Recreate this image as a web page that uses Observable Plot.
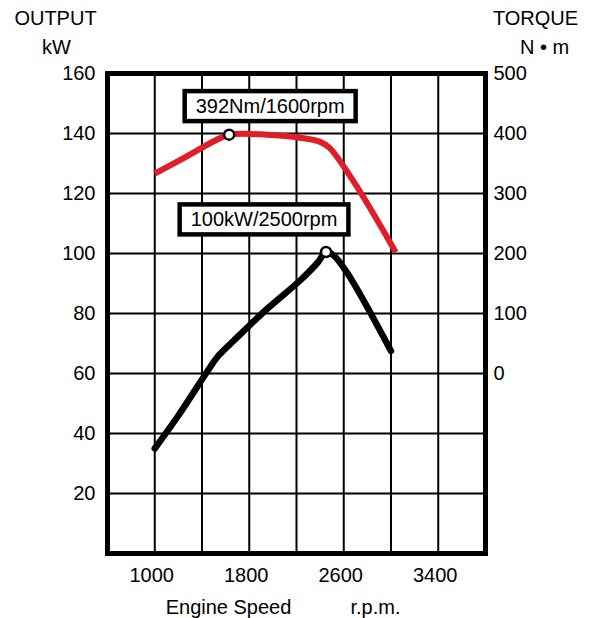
<!DOCTYPE html>
<html><head><meta charset="utf-8">
<script src="https://cdn.jsdelivr.net/npm/d3@7"></script>
<script src="https://cdn.jsdelivr.net/npm/@observablehq/plot@0.6"></script>
<style>body{margin:0;background:#fff} svg{display:block}</style>
</head><body><div id="chart"></div>
<script>
// ---- data ----
const rpmGrid = [1000, 1400, 1800, 2200, 2600, 3000, 3400];
const rpmTicks = [1000, 1800, 2600, 3400];
const kwGrid = [20, 40, 60, 80, 100, 120, 140];
const kwTicks = [20, 40, 60, 80, 100, 120, 140, 160];
const nmTicks = [0, 100, 200, 300, 400, 500];

const powerRpm = [1000, 1200, 1450, 1530, 1670, 1950, 2230, 2380, 2450, 2510, 2630, 3000];
const powerKw  = [35, 46, 61, 65.5, 71, 81.5, 91, 97, 100.5, 99.5, 93.5, 67.5];

const torqueRpm = [1000, 1300, 1500, 1630, 1950, 2230, 2400, 2480, 2690, 3040];
const torqueNm  = [333, 365, 387, 398, 398, 393, 386, 376, 318, 202];

const labelText   = ["392Nm/1600rpm", "100kW/2500rpm"];
const labelRpm    = [1630, 2450];
const labelSeries = ["torque", "power"];
const labelValue  = [398, 100.5];

// torque axis mapped onto the output scale: 0 N·m ↔ 60 kW, 100 N·m ↔ 20 kW
const nmToKw = t => 60 + t / 5;
const kwToNm = k => (k - 60) * 5;

const power = powerRpm.map((r, i) => ({rpm: r, v: powerKw[i]}));
const torque = torqueRpm.map((r, i) => ({rpm: r, v: nmToKw(torqueNm[i])}));
const labels = labelText.map((t, i) => ({
  text: t, rpm: labelRpm[i],
  v: labelSeries[i] === "torque" ? nmToKw(labelValue[i]) : labelValue[i]
}));

const font = "Liberation Sans, Arial, Helvetica, sans-serif";

const plot = Plot.plot({
  width: 595,
  height: 618,
  marginLeft: 107,
  marginRight: 110,
  marginTop: 73,
  marginBottom: 65,
  style: {fontFamily: font, fontSize: "20px", color: "black", background: "white"},
  x: {domain: [600, 3800], label: null},
  y: {domain: [0, 160], label: null},
  marks: [
    Plot.ruleX(rpmGrid, {stroke: "black", strokeWidth: 2}),
    Plot.ruleY(kwGrid, {stroke: "black", strokeWidth: 2}),
    Plot.frame({stroke: "black", strokeWidth: 5}),
    Plot.axisX(rpmTicks, {anchor: "bottom", tickSize: 0, tickPadding: 14, dx: -3, tickFormat: d => String(d), fontSize: 20}),
    Plot.axisY(kwTicks, {anchor: "left", tickSize: 0, tickPadding: 12, tickFormat: d => String(d), fontSize: 20}),
    Plot.axisY(nmTicks.map(nmToKw), {anchor: "right", tickSize: 0, tickPadding: 8,
      tickFormat: d => String(Math.round(kwToNm(d))), fontSize: 20}),
    Plot.line(torque, {x: "rpm", y: "v", stroke: "#e01e2a", strokeWidth: 6, curve: "catmull-rom", strokeLinecap: "butt"}),
    Plot.line(power, {x: "rpm", y: "v", stroke: "black", strokeWidth: 6.5, curve: "catmull-rom", strokeLinejoin: "round"}),
    Plot.dot(labels, {x: "rpm", y: "v", r: 5, fill: "white", stroke: "black", strokeWidth: 2.5}),
    Plot.text([labels[0]], {x: "rpm", y: "v", text: "text", dx: 41, dy: -28, fontSize: 20, fill: "black"}),
    Plot.text([labels[1]], {x: "rpm", y: "v", text: "text", dx: -62, dy: -32, fontSize: 20, fill: "black"}),
    Plot.text(["OUTPUT"], {frameAnchor: "top-left", dx: -52, dy: -55, fontSize: 20, textAnchor: "middle", lineAnchor: "middle"}),
    Plot.text(["kW"], {frameAnchor: "top-left", dx: -51, dy: -26, fontSize: 20, textAnchor: "middle", lineAnchor: "middle"}),
    Plot.text(["TORQUE"], {frameAnchor: "top-right", dx: 50, dy: -55, fontSize: 20, textAnchor: "middle", lineAnchor: "middle"}),
    Plot.text(["N • m"], {frameAnchor: "top-right", dx: 59, dy: -26, fontSize: 20, textAnchor: "middle", lineAnchor: "middle"}),
    Plot.text(["Engine Speed"], {frameAnchor: "bottom-left", dx: 121, dy: 54, fontSize: 20, textAnchor: "middle", lineAnchor: "middle"}),
    Plot.text(["r.p.m."], {frameAnchor: "bottom-left", dx: 268, dy: 54, fontSize: 20, textAnchor: "middle", lineAnchor: "middle"})
  ]
});

document.getElementById("chart").appendChild(plot);

// boxes around annotation labels
const svgNS = "http://www.w3.org/2000/svg";
plot.querySelectorAll("text").forEach(t => {
  if (!labelText.includes(t.textContent)) return;
  const b = t.getBBox();
  const padX = 11, padY = 4;
  const rect = document.createElementNS(svgNS, "rect");
  rect.setAttribute("x", b.x - padX);
  rect.setAttribute("y", b.y - padY);
  rect.setAttribute("width", b.width + 2 * padX);
  rect.setAttribute("height", b.height + 2 * padY);
  rect.setAttribute("fill", "white");
  rect.setAttribute("stroke", "black");
  rect.setAttribute("stroke-width", 4.5);
  const tr = t.getAttribute("transform");
  if (tr) rect.setAttribute("transform", tr);
  t.parentNode.insertBefore(rect, t);
});
</script>
</body></html>
